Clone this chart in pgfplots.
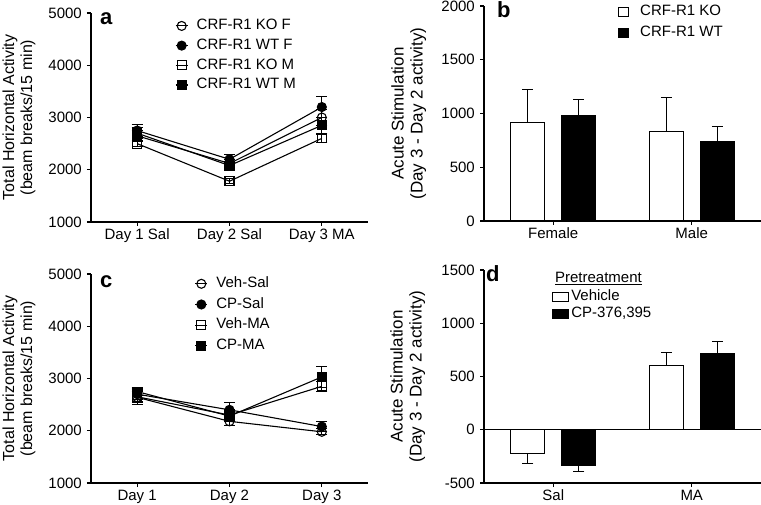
\documentclass[border=0pt]{standalone}
\usepackage{fontspec}
\setmainfont{Liberation Sans}
\usepackage{pgfplots}
\pgfplotsset{compat=1.18}
\newcommand{\fs}{\fontsize{15}{17}\selectfont}
\newcommand{\fla}{\fontsize{16}{18}\selectfont}
\newcommand{\flb}{\fontsize{17}{19}\selectfont}
\pgfplotsset{
  myax/.style={
    scale only axis, width=277pt,
    axis x line*=bottom, axis y line*=left,
    axis line style={-, black, line width=1.1pt},
    tick align=outside, major tick length=4pt,
    tick style={black, line width=1.1pt},
    /pgf/number format/assume math mode=true,
    /pgf/number format/1000 sep={},
    tick label style={font=\fs, black},
    xticklabel style={anchor=north, inner sep=0pt, text height=11pt, text depth=3pt, yshift=-2pt},
    ylabel style={align=center, anchor=center, rotate=0},
    clip=false,
    legend cell align=left,
    legend style={draw=none, fill=none, anchor=north west, inner sep=0pt,
      font=\fs, column sep=7pt,
      nodes={inner sep=1.5pt, text height=11pt, text depth=3.5pt}},
  },
  lineax/.style={myax, xmin=0.5, xmax=3.5, xtick={1,2,3}, ymin=1000, ymax=5000,
    ytick={1000,2000,3000,4000,5000}, height=209pt,
    ylabel style={font=\fla},
    legend image code/.code={\draw[mark repeat=2,mark phase=2] plot coordinates {(0pt,0pt) (6pt,0pt) (12pt,0pt)};}},
  errs/.style={
    /pgfplots/error bars/y dir=both, /pgfplots/error bars/y explicit,
    /pgfplots/error bars/error bar style={line width=1.1pt, black},
    /pgfplots/error bars/error mark options={rotate=90, mark size=5.5pt, line width=1.1pt, black}},
  ser/.style={black, line width=1.1pt, mark size=4.5pt, mark options={solid, line width=1.1pt}, errs},
  barser/.style={draw=black, line width=1.1pt, errs},
}
\begin{document}
\fs
\begin{tikzpicture}[font=\fs]
\useasboundingbox (0,0) rectangle (761pt,504pt);
% ---------- panel a ----------
\begin{axis}[lineax, at={(91pt,282pt)}, anchor=south west,
  xticklabels={Day 1 Sal, Day 2 Sal, Day 3 MA},
  ylabel={Total Horizontal Activity\\(beam breaks/15 min)},
  ylabel style={at={(axis description cs:-0.26,0.5)}},
  legend style={at={(0.303,0.981)}, row sep=2.2pt}]
\addplot[ser, mark=o, mark options={fill=white}] coordinates {(1,2650) +- (0,100) (2,2120) +- (0,80) (3,3000) +- (0,160)};
\addlegendentry{CRF-R1 KO F}
\addplot[ser, mark=*] coordinates {(1,2750) +- (0,110) (2,2200) +- (0,100) (3,3200) +- (0,200)};
\addlegendentry{CRF-R1 WT F}
\addplot[ser, mark=square, mark options={fill=white}] coordinates {(1,2500) +- (0,60) (2,1780) +- (0,50) (3,2600) +- (0,70)};
\addlegendentry{CRF-R1 KO M}
\addplot[ser, mark=square*] coordinates {(1,2700) +- (0,100) (2,2080) +- (0,80) (3,2850) +- (0,150)};
\addlegendentry{CRF-R1 WT M}
\end{axis}
\node[anchor=base west, font=\bfseries\fontsize{22}{22}\selectfont, inner sep=0pt] at (100pt,479pt) {a};
% ---------- panel c ----------
\begin{axis}[lineax, at={(91pt,21pt)}, anchor=south west,
  xticklabels={Day 1, Day 2, Day 3},
  ylabel={Total Horizontal Activity\\(beam breaks/15 min)},
  ylabel style={at={(axis description cs:-0.26,0.5)}},
  legend style={at={(0.374,0.996)}, row sep=3.2pt}]
\addplot[ser, mark=o, mark options={fill=white}] coordinates {(1,2640) +- (0,140) (2,2180) +- (0,80) (3,1980) +- (0,60)};
\addlegendentry{Veh-Sal}
\addplot[ser, mark=*] coordinates {(1,2700) +- (0,100) (2,2400) +- (0,140) (3,2080) +- (0,100)};
\addlegendentry{CP-Sal}
\addplot[ser, mark=square, mark options={fill=white}] coordinates {(1,2650) +- (0,100) (2,2300) +- (0,100) (3,2850) +- (0,100)};
\addlegendentry{Veh-MA}
\addplot[ser, mark=square*] coordinates {(1,2750) +- (0,80) (2,2280) +- (0,100) (3,3030) +- (0,200)};
\addlegendentry{CP-MA}
\end{axis}
\node[anchor=base west, font=\bfseries\fontsize{22}{22}\selectfont, inner sep=0pt] at (100pt,216pt) {c};
% ---------- panel b ----------
\begin{axis}[myax, at={(484pt,283pt)}, anchor=south west, height=215pt,
  ybar=17pt, bar width=34pt,
  xmin=-0.5, xmax=1.5, xtick={0,1}, xticklabels={Female, Male},
  ymin=0, ymax=2000, ytick={0,500,1000,1500,2000},
  ylabel={Acute Stimulation\\(Day 3 - Day 2 activity)},
  ylabel style={font=\flb, at={(axis description cs:-0.272,0.5)}},
  legend style={at={(0.482,1.014)}, row sep=3.5pt, column sep=10pt},
  legend image code/.code={\draw[#1, line width=1pt] (0pt,-4.5pt) rectangle (10pt,4.5pt);}]
\addplot[barser, fill=white] coordinates {(0,920) += (0,303) -= (0,0) (1,830) += (0,318) -= (0,0)};
\addlegendentry{CRF-R1 KO}
\addplot[barser, fill=black] coordinates {(0,985) += (0,148) -= (0,0) (1,737) += (0,146) -= (0,0)};
\addlegendentry{CRF-R1 WT}
\end{axis}
\node[anchor=base west, font=\bfseries\fontsize{22}{22}\selectfont, inner sep=0pt] at (497pt,486pt) {b};
% ---------- panel d ----------
\begin{axis}[myax, at={(484pt,21pt)}, anchor=south west, height=213pt,
  ybar=17pt, bar width=34pt,
  xmin=-0.5, xmax=1.5, xtick={0,1}, xticklabels={Sal, MA},
  ymin=-500, ymax=1500, ytick={-500,0,500,1000,1500},
  ylabel={Acute Stimulation\\(Day 3 - Day 2 activity)},
  ylabel style={font=\flb, at={(axis description cs:-0.275,0.5)}},
  legend style={at={(0.244,0.916)}, row sep=-0.5pt, column sep=1pt},
  legend image code/.code={\draw[#1, line width=1pt] (0pt,-4.5pt) rectangle (16pt,4.5pt);}]
\draw[line width=1.1pt] (axis cs:-0.5,0) -- (axis cs:1.5,0);
\addplot[barser, fill=white] coordinates {(0,-220) += (0,0) -= (0,93) (1,600) += (0,127) -= (0,0)};
\addlegendentry{Vehicle}
\addplot[barser, fill=black] coordinates {(0,-339) += (0,0) -= (0,53) (1,715) += (0,113) -= (0,0)};
\addlegendentry{CP-376,395}
\node[anchor=base west, font=\fs, inner sep=0pt] at (axis description cs:0.256,0.939) {\underline{Pretreatment}};
\end{axis}
\node[anchor=base west, font=\bfseries\fontsize{22}{22}\selectfont, inner sep=0pt] at (486pt,222pt) {d};
\end{tikzpicture}
\end{document}
